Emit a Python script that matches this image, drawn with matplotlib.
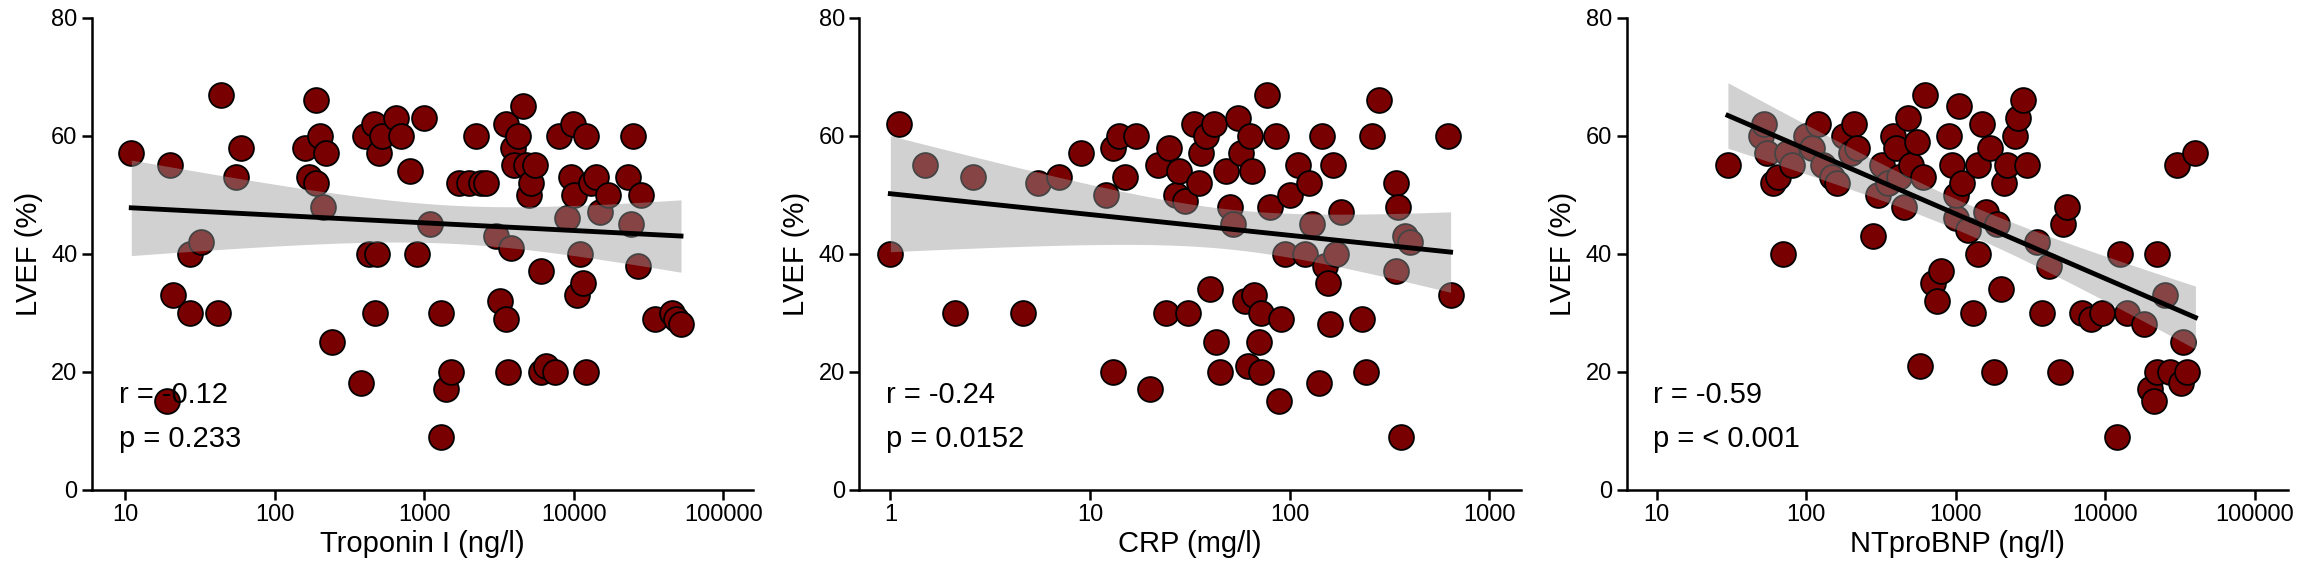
import numpy as np
import matplotlib
matplotlib.use("Agg")
import matplotlib.pyplot as plt
from matplotlib.ticker import FixedLocator, NullLocator

plt.rcParams["font.family"] = ["Liberation Sans", "DejaVu Sans"]

# Troponin I (ng/l) vs LVEF (%)
trop_x = [11, 20, 19, 21, 27, 32, 27, 42, 44, 60, 55, 160, 170, 190, 200, 210, 220, 190, 240,
          380, 400, 430, 460, 470, 480, 500, 520, 650, 700, 800, 900, 1000, 1100, 1300, 1400,
          1500, 1300, 1700, 2000, 2200, 2400, 2600, 3000, 3200, 3500, 3500, 3600, 3800, 3900,
          4000, 4200, 4600, 4800, 5000, 5200, 5500, 6000, 6000, 6500, 7500, 8000, 9000, 9500,
          9800, 10000, 10500, 11000, 11500, 12000, 12000, 13000, 14000, 15000, 17000, 23000,
          24000, 25000, 27000, 28000, 35000, 45000, 48000, 52000]
trop_y = [57, 55, 15, 33, 40, 42, 30, 30, 67, 58, 53, 58, 53, 66, 60, 48, 57, 52, 25,
          18, 60, 40, 62, 30, 40, 57, 60, 63, 60, 54, 40, 63, 45, 30, 17,
          20, 9, 52, 52, 60, 52, 52, 43, 32, 62, 29, 20, 41, 58,
          55, 60, 65, 55, 50, 52, 55, 20, 37, 21, 20, 60, 46, 53,
          62, 50, 33, 40, 35, 60, 20, 52, 53, 47, 50, 53,
          45, 60, 38, 50, 29, 30, 29, 28]

# CRP (mg/l) vs LVEF (%)
crp_x = [1.0, 1.1, 1.5, 2.1, 2.6, 4.6, 5.5, 7, 9, 12, 13, 13, 14, 15, 17, 20, 22, 24, 25, 27,
         28, 30, 31, 33, 35, 36, 38, 40, 42, 43, 45, 48, 50, 52, 55, 57, 60, 62, 63, 65, 66,
         70, 72, 72, 77, 80, 85, 88, 90, 95, 100, 110, 120, 125, 130, 140, 145, 150, 155, 160,
         165, 170, 180, 230, 240, 260, 280, 340, 340, 350, 360, 380, 400, 620, 640]
crp_y = [40, 62, 55, 30, 53, 30, 52, 53, 57, 50, 20, 58, 60, 53, 60, 17, 55, 30, 58, 50,
         54, 49, 30, 62, 52, 57, 60, 34, 62, 25, 20, 54, 48, 45, 63, 57, 32, 21, 60, 54, 33,
         25, 30, 20, 67, 48, 60, 15, 29, 40, 50, 55, 40, 52, 45, 18, 60, 38, 35, 28,
         55, 40, 47, 29, 20, 60, 66, 37, 52, 48, 9, 43, 42, 60, 33]

# NTproBNP (ng/l) vs LVEF (%)
bnp_x = [30, 50, 52, 55, 60, 65, 70, 75, 80, 100, 110, 120, 130, 150, 160, 180, 200, 210, 220,
         280, 300, 320, 350, 380, 400, 420, 450, 480, 500, 550, 580, 600, 620, 700, 750, 800,
         900, 950, 1000, 1000, 1050, 1100, 1200, 1300, 1400, 1400, 1500, 1600, 1700, 1800,
         1900, 2000, 2100, 2200, 2500, 2600, 2800, 3000, 3500, 3800, 4200, 5000, 5200, 5500,
         7000, 8000, 9500, 12000, 12500, 14000, 18000, 20000, 21000, 22000, 22000, 25000,
         27000, 30000, 32000, 33000, 35000, 40000]
bnp_y = [55, 60, 62, 57, 52, 53, 40, 57, 55, 60, 58, 62, 55, 53, 52, 60, 57, 62, 58,
         43, 50, 55, 52, 60, 58, 53, 48, 63, 55, 59, 21, 53, 67, 35, 32, 37,
         60, 55, 46, 50, 65, 52, 44, 30, 40, 55, 62, 47, 58, 20,
         45, 34, 52, 55, 60, 63, 66, 55, 42, 30, 38, 20, 45, 48,
         30, 29, 30, 9, 40, 30, 28, 17, 15, 40, 20, 33,
         20, 55, 18, 25, 20, 57]

panels = [
    (trop_x, trop_y, "Troponin I (ng/l)", "r = -0.12", "p = 0.233",
     [10, 100, 1000, 10000, 100000], (10 ** 0.78, 10 ** 5.2)),
    (crp_x, crp_y, "CRP (mg/l)", "r = -0.24", "p = 0.0152",
     [1, 10, 100, 1000], (10 ** -0.155, 10 ** 3.157)),
    (bnp_x, bnp_y, "NTproBNP (ng/l)", "r = -0.59", "p = < 0.001",
     [10, 100, 1000, 10000, 100000], (10 ** 0.8, 10 ** 5.22)),
]

lefts = [0.040, 0.373, 0.706]
width = 0.287

fig = plt.figure(figsize=(23.04, 5.76), dpi=100)

for left, (xs, ys, xlabel, rtxt, ptxt, ticks, xlim) in zip(lefts, panels):
    ax = fig.add_axes([left, 0.150, width, 0.819])
    x = np.array(xs, dtype=float)
    y = np.array(ys, dtype=float)
    ax.scatter(x, y, s=320, c="#780000", edgecolors="black", linewidths=1.3, zorder=2)

    # linear fit on log10(x) with 95% CI, ggplot-style
    lx = np.log10(x)
    n = len(lx)
    b, a = np.polyfit(lx, y, 1)
    gx = np.linspace(lx.min(), lx.max(), 200)
    fit = a + b * gx
    resid = y - (a + b * lx)
    s = np.sqrt(np.sum(resid ** 2) / (n - 2))
    se = s * np.sqrt(1 / n + (gx - lx.mean()) ** 2 / np.sum((lx - lx.mean()) ** 2))
    ax.fill_between(10 ** gx, fit - 1.99 * se, fit + 1.99 * se,
                    color="#999999", alpha=0.45, lw=0, zorder=3)
    ax.plot(10 ** gx, fit, color="black", lw=3.5, zorder=4)

    ax.set_xscale("log")
    ax.set_xlim(*xlim)
    ax.set_ylim(0, 80)
    ax.xaxis.set_major_locator(FixedLocator(ticks))
    ax.xaxis.set_minor_locator(NullLocator())
    ax.set_xticklabels([str(t) for t in ticks])
    ax.set_yticks([0, 20, 40, 60, 80])
    ax.spines["top"].set_visible(False)
    ax.spines["right"].set_visible(False)
    for sp in ("left", "bottom"):
        ax.spines[sp].set_linewidth(1.8)
    ax.tick_params(axis="both", labelsize=17, width=1.8, length=7, colors="black")
    ax.set_xlabel(xlabel, fontsize=21, labelpad=3)
    ax.set_ylabel("LVEF (%)", fontsize=21, labelpad=6)

    ax.text(0.04, 16, rtxt, transform=ax.get_yaxis_transform(), fontsize=21,
            va="center", ha="left", zorder=5)
    ax.text(0.04, 8.5, ptxt, transform=ax.get_yaxis_transform(), fontsize=21,
            va="center", ha="left", zorder=5)

fig.savefig("out.png", dpi=100)
